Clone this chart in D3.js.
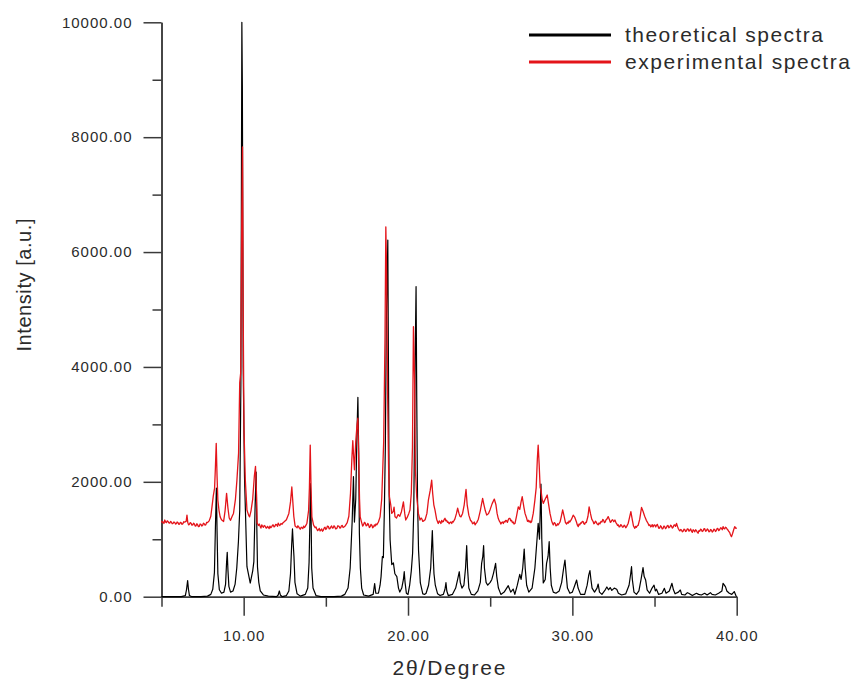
<!DOCTYPE html>
<html>
<head>
<meta charset="utf-8">
<script src="https://cdn.jsdelivr.net/npm/d3@7"></script>
<style>
  html, body { margin: 0; padding: 0; background: #fff; }
  svg { display: block; }
  text { font-family: Arial, "Liberation Sans", sans-serif; fill: #2b2b2b; }
</style>
</head>
<body>
<svg id="chart" width="855" height="691"></svg>
<script>
// Calculated powder pattern: [2θ (deg), intensity]
const theoretical = [
  [5.00,0],[5.60,0],[6.20,0],[6.45,20],[6.52,120],[6.59,280],[6.64,130],[6.70,20],[6.85,0],
  [7.40,0],[7.80,10],[8.00,40],[8.12,130],[8.22,420],[8.28,1200],[8.34,1890],[8.38,1150],
  [8.43,400],[8.52,120],[8.65,60],[8.80,80],[8.90,220],[8.96,600],[9.00,773],[9.04,480],
  [9.10,180],[9.20,80],[9.35,100],[9.48,220],[9.58,500],[9.68,957],[9.76,1500],[9.83,3700],
  [9.89,10000],[9.92,8900],[9.97,4000],[10.05,2090],[10.20,522],[10.40,238],[10.55,450],
  [10.62,610],[10.70,1630],[10.76,2170],[10.80,1200],[10.84,522],[10.92,250],[11.01,100],
  [11.20,30],[11.50,10],[12.00,0],[12.10,30],[12.17,100],[12.23,30],[12.35,0],[12.60,20],
  [12.75,100],[12.85,400],[12.92,900],[12.97,1180],[13.02,900],[13.06,700],[13.12,250],
  [13.25,50],[13.45,10],[13.75,40],[13.90,150],[13.98,600],[14.03,1300],[14.06,1970],
  [14.10,1450],[14.14,500],[14.22,150],[14.40,20],[14.70,0],[15.50,0],[15.95,10],[16.15,40],
  [16.35,150],[16.48,500],[16.60,1300],[16.68,2090],[16.74,1300],[16.82,1700],[16.89,2800],
  [16.95,3470],[17.00,2500],[17.04,1110],[17.10,500],[17.18,150],[17.30,30],[17.60,10],
  [17.88,40],[17.97,230],[18.04,60],[18.20,60],[18.30,200],[18.36,350],[18.44,700],[18.50,680],
  [18.56,1500],[18.62,2600],[18.68,4800],[18.74,5600],[18.77,6210],[18.81,4000],[18.85,1800],
  [18.91,990],[19.01,560],[19.11,590],[19.20,400],[19.32,350],[19.42,150],[19.50,80],
  [19.62,150],[19.72,300],[19.77,435],[19.82,250],[19.90,60],[20.00,40],[20.10,200],
  [20.20,450],[20.28,760],[20.35,1500],[20.40,2960],[20.45,4500],[20.49,5400],[20.53,3500],
  [20.58,1680],[20.64,810],[20.75,240],[20.90,50],[21.02,40],[21.10,60],[21.25,200],
  [21.38,500],[21.44,900],[21.48,1150],[21.52,800],[21.58,400],[21.66,200],[21.80,50],
  [21.95,20],[22.15,40],[22.25,130],[22.31,244],[22.36,100],[22.45,20],[22.70,40],[22.90,150],
  [23.02,300],[23.12,435],[23.18,250],[23.28,150],[23.40,200],[23.50,500],[23.57,888],
  [23.62,500],[23.70,150],[23.85,40],[24.05,30],[24.25,100],[24.40,250],[24.48,581],
  [24.55,700],[24.60,888],[24.65,500],[24.75,250],[24.85,200],[25.00,250],[25.10,300],
  [25.20,407],[25.33,581],[25.40,350],[25.50,150],[25.65,40],[25.85,80],[26.10,192],
  [26.25,80],[26.40,133],[26.50,40],[26.65,200],[26.80,389],[26.88,300],[26.98,500],
  [27.07,830],[27.13,500],[27.22,200],[27.35,80],[27.55,150],[27.72,500],[27.85,1000],
  [27.92,1277],[28.00,1000],[28.09,1962],[28.14,1000],[28.23,240],[28.35,300],[28.43,581],
  [28.52,700],[28.59,958],[28.65,500],[28.72,200],[28.84,80],[29.00,60],[29.20,100],
  [29.35,250],[29.47,500],[29.55,639],[29.62,400],[29.70,150],[29.85,60],[30.00,80],
  [30.15,200],[30.26,290],[30.35,150],[30.50,40],[30.75,40],[30.90,200],[31.00,380],
  [31.07,453],[31.13,300],[31.20,150],[31.35,80],[31.50,150],[31.57,221],[31.65,80],
  [31.80,40],[32.00,120],[32.10,170],[32.20,120],[32.30,160],[32.40,110],[32.55,150],
  [32.70,130],[32.80,60],[33.00,30],[33.25,50],[33.45,200],[33.55,400],[33.60,522],
  [33.65,300],[33.75,80],[33.90,40],[34.05,100],[34.18,300],[34.30,505],[34.37,350],
  [34.46,290],[34.55,120],[34.70,60],[34.85,150],[34.97,200],[35.05,100],[35.12,130],
  [35.25,40],[35.45,60],[35.60,145],[35.70,60],[35.90,100],[36.06,233],[36.15,120],
  [36.25,50],[36.45,80],[36.57,116],[36.65,40],[36.85,30],[37.00,70],[37.08,60],[37.30,20],
  [37.55,60],[37.68,40],[37.85,30],[38.05,60],[38.20,30],[38.40,70],[38.50,40],[38.70,30],
  [38.90,60],[39.10,100],[39.17,233],[39.25,200],[39.32,170],[39.40,100],[39.55,60],
  [39.70,40],[39.85,90],[39.95,20],[40.00,0]
];

// Measured powder pattern: [2θ (deg), intensity]
const experimental = [
  [5.00,1320],[5.05,1290],[5.10,1300],[5.15,1275],[5.20,1335],[5.25,1300],[5.30,1290],
  [5.35,1320],[5.40,1310],[5.45,1285],[5.50,1280],[5.55,1310],[5.60,1300],[5.65,1270],
  [5.70,1275],[5.75,1300],[5.80,1295],[5.85,1265],[5.90,1270],[5.95,1300],[6.00,1290],
  [6.05,1260],[6.10,1265],[6.15,1295],[6.20,1285],[6.25,1260],[6.30,1270],[6.35,1305],
  [6.40,1300],[6.50,1310],[6.55,1420],[6.60,1290],[6.65,1250],[6.70,1260],[6.75,1290],
  [6.80,1280],[6.85,1245],[6.90,1250],[6.95,1280],[7.00,1265],[7.05,1230],[7.10,1235],
  [7.15,1270],[7.20,1250],[7.25,1220],[7.30,1225],[7.35,1265],[7.40,1260],[7.45,1230],
  [7.50,1240],[7.55,1280],[7.60,1270],[7.65,1245],[7.70,1255],[7.75,1295],[7.80,1290],
  [7.90,1320],[8.00,1400],[8.07,1560],[8.15,1750],[8.23,1890],[8.28,2250],[8.33,2670],
  [8.38,2100],[8.43,1680],[8.50,1500],[8.57,1390],[8.65,1340],[8.78,1310],[8.87,1500],
  [8.96,1800],[9.04,1550],[9.12,1370],[9.20,1330],[9.30,1400],[9.38,1450],[9.50,1700],
  [9.59,2030],[9.69,2500],[9.76,3730],[9.82,3900],[9.88,6500],[9.93,7830],[9.97,5000],
  [10.02,2900],[10.10,2030],[10.20,1510],[10.30,1420],[10.36,1390],[10.45,1500],[10.55,1700],
  [10.65,2100],[10.72,2270],[10.78,1800],[10.82,1280],[10.90,1240],[10.95,1265],[11.01,1220],
  [11.05,1195],[11.10,1250],[11.15,1225],[11.20,1210],[11.25,1240],[11.30,1230],[11.35,1200],
  [11.40,1195],[11.45,1225],[11.51,1205],[11.55,1185],[11.60,1230],[11.65,1200],[11.70,1215],
  [11.75,1245],[11.80,1250],[11.85,1215],[11.90,1225],[11.95,1260],[12.02,1250],[12.06,1225],
  [12.10,1280],[12.15,1255],[12.20,1240],[12.27,1275],[12.33,1260],[12.40,1290],[12.45,1300],
  [12.60,1340],[12.75,1450],[12.85,1650],[12.93,1910],[12.98,1700],[13.05,1400],[13.13,1230],
  [13.20,1215],[13.25,1200],[13.30,1235],[13.35,1215],[13.40,1190],[13.44,1175],[13.50,1210],
  [13.55,1200],[13.60,1185],[13.65,1230],[13.70,1205],[13.74,1220],[13.80,1250],[13.85,1280],
  [13.95,1500],[14.00,1900],[14.05,2640],[14.10,1900],[14.15,1390],[14.25,1250],[14.30,1225],
  [14.35,1200],[14.40,1215],[14.45,1180],[14.50,1150],[14.55,1165],[14.60,1190],[14.65,1145],
  [14.70,1160],[14.75,1180],[14.80,1140],[14.85,1160],[14.90,1195],[14.95,1210],[15.00,1170],
  [15.05,1190],[15.10,1230],[15.16,1220],[15.20,1180],[15.25,1185],[15.30,1215],[15.35,1230],
  [15.40,1195],[15.45,1200],[15.50,1235],[15.55,1215],[15.60,1180],[15.67,1190],[15.73,1235],
  [15.80,1225],[15.85,1195],[15.90,1200],[15.95,1235],[16.00,1240],[16.05,1205],[16.10,1215],
  [16.17,1230],[16.30,1290],[16.40,1400],[16.50,1800],[16.58,2380],[16.64,2715],[16.70,2400],
  [16.74,2210],[16.82,2700],[16.90,3000],[16.95,3110],[17.00,2400],[17.05,1700],[17.09,1390],
  [17.18,1290],[17.24,1230],[17.29,1250],[17.35,1295],[17.40,1280],[17.45,1235],[17.50,1240],
  [17.55,1275],[17.59,1260],[17.65,1205],[17.70,1220],[17.75,1260],[17.80,1245],[17.85,1200],
  [17.90,1215],[17.95,1250],[18.00,1230],[18.05,1265],[18.10,1250],[18.20,1300],[18.30,1390],
  [18.40,1700],[18.44,2030],[18.52,2700],[18.60,4500],[18.65,6440],[18.70,5600],[18.76,3500],
  [18.82,2200],[18.87,1740],[18.95,1600],[19.01,1450],[19.10,1480],[19.15,1560],[19.21,1390],
  [19.30,1370],[19.40,1430],[19.50,1400],[19.60,1480],[19.72,1650],[19.80,1450],[19.86,1335],
  [19.95,1380],[20.05,1450],[20.12,1510],[20.20,1800],[20.27,2600],[20.33,4700],[20.40,3800],
  [20.45,2200],[20.53,1740],[20.63,1450],[20.73,1335],[20.80,1370],[20.85,1350],[20.90,1310],
  [20.95,1320],[21.04,1340],[21.15,1450],[21.24,1680],[21.35,1850],[21.44,2030],[21.50,1800],
  [21.57,1600],[21.64,1510],[21.74,1350],[21.84,1275],[21.90,1320],[21.95,1300],[22.00,1275],
  [22.05,1330],[22.10,1300],[22.15,1310],[22.20,1345],[22.25,1365],[22.30,1320],[22.35,1330],
  [22.40,1295],[22.45,1300],[22.50,1270],[22.55,1290],[22.60,1300],[22.66,1275],[22.70,1310],
  [22.75,1300],[22.85,1350],[22.95,1450],[23.02,1540],[23.10,1450],[23.16,1400],[23.22,1390],
  [23.32,1450],[23.42,1600],[23.53,1870],[23.60,1600],[23.70,1420],[23.80,1330],[23.88,1305],
  [23.93,1270],[23.98,1280],[24.03,1300],[24.08,1250],[24.13,1275],[24.18,1290],[24.28,1350],
  [24.40,1500],[24.54,1710],[24.62,1600],[24.70,1500],[24.79,1420],[24.90,1450],[25.00,1520],
  [25.12,1620],[25.25,1700],[25.35,1600],[25.42,1450],[25.49,1365],[25.55,1320],[25.60,1300],
  [25.65,1265],[25.70,1290],[25.75,1300],[25.80,1275],[25.85,1310],[25.90,1300],[25.95,1330],
  [26.00,1320],[26.05,1295],[26.10,1340],[26.15,1365],[26.20,1365],[26.25,1320],[26.30,1330],
  [26.35,1290],[26.40,1300],[26.45,1265],[26.51,1275],[26.60,1400],[26.71,1565],[26.80,1520],
  [26.88,1650],[26.95,1740],[27.05,1560],[27.12,1450],[27.22,1365],[27.27,1310],[27.32,1330],
  [27.37,1300],[27.42,1320],[27.47,1290],[27.52,1305],[27.62,1450],[27.72,1680],[27.80,1900],
  [27.87,2400],[27.92,2640],[27.98,2300],[28.04,1900],[28.09,1860],[28.16,1700],[28.23,1625],
  [28.35,1700],[28.47,1770],[28.56,1600],[28.64,1450],[28.74,1320],[28.79,1280],[28.84,1250],
  [28.90,1290],[28.95,1280],[29.00,1235],[29.05,1240],[29.10,1270],[29.14,1250],[29.25,1300],
  [29.33,1400],[29.41,1510],[29.50,1400],[29.58,1290],[29.65,1265],[29.70,1295],[29.75,1280],
  [29.80,1320],[29.85,1300],[29.95,1350],[30.05,1420],[30.15,1380],[30.25,1300],[30.30,1250],
  [30.36,1220],[30.40,1265],[30.45,1250],[30.50,1285],[30.55,1280],[30.60,1310],[30.66,1305],
  [30.70,1270],[30.75,1260],[30.80,1295],[30.85,1290],[30.95,1400],[31.02,1565],[31.10,1450],
  [31.18,1350],[31.27,1305],[31.31,1270],[31.35,1280],[31.40,1315],[31.45,1300],[31.50,1270],
  [31.57,1250],[31.62,1285],[31.68,1270],[31.74,1310],[31.80,1300],[31.85,1345],[31.90,1330],
  [31.95,1290],[32.00,1300],[32.05,1340],[32.10,1350],[32.18,1395],[32.27,1330],[32.31,1295],
  [32.35,1300],[32.40,1330],[32.45,1340],[32.52,1305],[32.59,1335],[32.65,1290],[32.70,1270],
  [32.75,1240],[32.80,1250],[32.85,1215],[32.89,1220],[32.95,1255],[33.00,1240],[33.05,1210],
  [33.10,1215],[33.15,1245],[33.20,1230],[33.25,1200],[33.30,1220],[33.40,1280],[33.48,1380],
  [33.56,1480],[33.64,1350],[33.72,1230],[33.80,1190],[33.85,1225],[33.90,1210],[33.95,1235],
  [34.00,1240],[34.10,1350],[34.21,1555],[34.31,1480],[34.40,1400],[34.50,1330],[34.61,1275],
  [34.66,1240],[34.72,1250],[34.77,1215],[34.82,1230],[34.86,1255],[34.91,1215],[34.96,1245],
  [35.02,1250],[35.07,1215],[35.12,1240],[35.17,1260],[35.22,1220],[35.27,1190],[35.32,1200],
  [35.37,1235],[35.42,1215],[35.47,1180],[35.52,1190],[35.57,1230],[35.62,1220],[35.67,1185],
  [35.72,1200],[35.77,1235],[35.82,1240],[35.87,1200],[35.93,1215],[35.98,1245],[36.03,1230],
  [36.08,1195],[36.13,1210],[36.18,1245],[36.23,1250],[36.28,1225],[36.34,1275],[36.40,1220],
  [36.44,1190],[36.49,1165],[36.54,1145],[36.59,1170],[36.64,1160],[36.69,1130],[36.74,1140],
  [36.79,1175],[36.84,1170],[36.89,1135],[36.94,1145],[36.99,1180],[37.05,1175],[37.10,1140],
  [37.15,1160],[37.20,1180],[37.25,1140],[37.30,1120],[37.35,1165],[37.40,1150],[37.45,1130],
  [37.50,1165],[37.55,1150],[37.60,1125],[37.65,1105],[37.70,1150],[37.75,1140],[37.80,1175],
  [37.85,1170],[37.90,1135],[37.96,1150],[38.01,1185],[38.06,1180],[38.11,1140],[38.16,1150],
  [38.21,1180],[38.26,1165],[38.31,1130],[38.36,1135],[38.41,1170],[38.46,1160],[38.51,1125],
  [38.56,1140],[38.61,1175],[38.66,1170],[38.71,1135],[38.76,1150],[38.81,1190],[38.86,1185],
  [38.91,1150],[38.96,1165],[39.02,1200],[39.07,1195],[39.12,1165],[39.17,1220],[39.22,1190],
  [39.27,1180],[39.32,1210],[39.37,1200],[39.42,1175],[39.47,1160],[39.52,1135],[39.57,1120],
  [39.62,1080],[39.68,1045],[39.75,1100],[39.82,1170],[39.88,1220],[39.95,1190],[40.00,1200]
];

const xMajorTicks = [10, 20, 30, 40];
const xMinorTicks = [5, 15, 25, 35];
const yMajorTicks = [0, 2000, 4000, 6000, 8000, 10000];
const yMinorTicks = [1000, 3000, 5000, 7000, 9000];
const seriesNames = ["theoretical spectra", "experimental spectra"];
const seriesColors = ["#000000", "#e4141a"];

const svg = d3.select("#chart");
const axisColor = "#3a3a3a";

const x = d3.scaleLinear().domain([5, 40]).range([161.5, 736.7]);
const y = d3.scaleLinear().domain([0, 10000]).range([596.7, 22.3]);

function styleAxis(g) {
  g.selectAll("path.domain").attr("stroke", axisColor).attr("stroke-width", 1.5);
  g.selectAll(".tick line").attr("stroke", axisColor).attr("stroke-width", 1.5);
  g.selectAll(".tick text")
    .style("font-family", "Arial, 'Liberation Sans', sans-serif")
    .style("font-size", "15px")
    .style("letter-spacing", "1px")
    .attr("fill", "#2b2b2b");
}

// minor ticks first, then major ticks with labels
svg.append("g")
  .attr("transform", `translate(0,${y(0)})`)
  .call(d3.axisBottom(x).tickValues(xMinorTicks).tickSize(10).tickSizeOuter(0).tickFormat(""))
  .call(styleAxis);
svg.append("g")
  .attr("transform", `translate(0,${y(0)})`)
  .call(d3.axisBottom(x).tickValues(xMajorTicks).tickSize(19).tickSizeOuter(0)
    .tickPadding(15).tickFormat(d3.format(".2f")))
  .call(styleAxis);

svg.append("g")
  .attr("transform", `translate(${x(5)},0)`)
  .call(d3.axisLeft(y).tickValues(yMinorTicks).tickSize(9).tickSizeOuter(0).tickFormat(""))
  .call(styleAxis);
svg.append("g")
  .attr("transform", `translate(${x(5)},0)`)
  .call(d3.axisLeft(y).tickValues(yMajorTicks).tickSize(18).tickSizeOuter(0)
    .tickPadding(11).tickFormat(d3.format(".2f")))
  .call(styleAxis);

// spectra
const line = d3.line().x(d => x(d[0])).y(d => y(d[1]));

svg.append("path")
  .datum(theoretical)
  .attr("d", line)
  .attr("fill", "none")
  .attr("stroke", seriesColors[0])
  .attr("stroke-width", 1.2)
  .attr("stroke-linejoin", "round");

svg.append("path")
  .datum(experimental)
  .attr("d", line)
  .attr("fill", "none")
  .attr("stroke", seriesColors[1])
  .attr("stroke-width", 1.3)
  .attr("stroke-linejoin", "round");

// axis titles
svg.append("text")
  .attr("transform", "translate(31,285) rotate(-90)")
  .attr("text-anchor", "middle")
  .style("font-size", "20px")
  .attr("textLength", 133)
  .attr("lengthAdjust", "spacing")
  .text("Intensity [a.u.]");

svg.append("text")
  .attr("x", 449)
  .attr("y", 675)
  .attr("text-anchor", "middle")
  .style("font-size", "21px")
  .attr("textLength", 113)
  .attr("lengthAdjust", "spacing")
  .text("2θ/Degree");

// legend
const legend = svg.append("g");
const legendRows = [
  { name: seriesNames[0], color: seriesColors[0], y: 35, len: 198 },
  { name: seriesNames[1], color: seriesColors[1], y: 62, len: 225 }
];
legendRows.forEach(r => {
  legend.append("line")
    .attr("x1", 529).attr("x2", 611)
    .attr("y1", r.y).attr("y2", r.y)
    .attr("stroke", r.color)
    .attr("stroke-width", 3);
  legend.append("text")
    .attr("x", 625)
    .attr("y", r.y + 6.5)
    .style("font-size", "21px")
    .attr("textLength", r.len)
    .attr("lengthAdjust", "spacing")
    .text(r.name);
});
</script>
</body>
</html>
